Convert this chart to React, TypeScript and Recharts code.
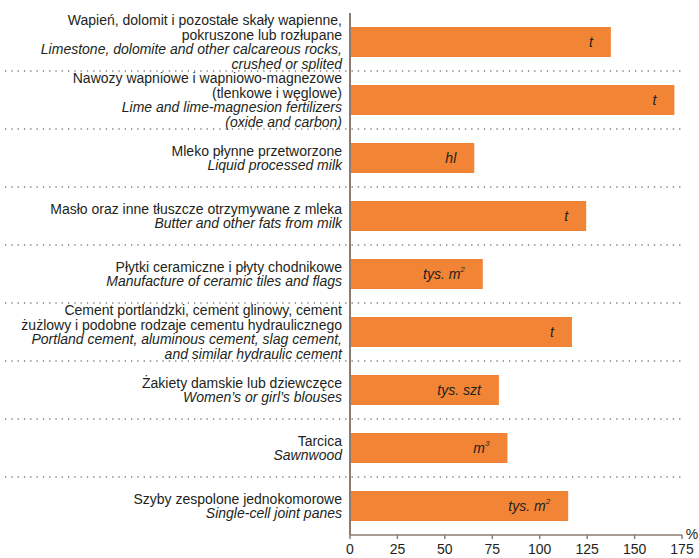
import React from "react";
import { BarChart, Bar, XAxis, YAxis, LabelList, Label } from "recharts";

// Category labels: Polish line(s) first, English (italic) line(s) after
const labelsPl: string[][] = [
  ["Wapień, dolomit i pozostałe skały wapienne,", "pokruszone lub rozłupane"],
  ["Nawozy wapniowe i wapniowo-magnezowe", "(tlenkowe i węglowe)"],
  ["Mleko płynne przetworzone"],
  ["Masło oraz inne tłuszcze otrzymywane z mleka"],
  ["Płytki ceramiczne i płyty chodnikowe"],
  ["Cement portlandzki, cement glinowy, cement", "żużlowy i podobne rodzaje  cementu hydraulicznego"],
  ["Żakiety damskie lub dziewczęce"],
  ["Tarcica"],
  ["Szyby zespolone jednokomorowe"],
];
const labelsEn: string[][] = [
  ["Limestone, dolomite and other calcareous rocks,", "crushed or splited"],
  ["Lime and lime-magnesion fertilizers", "(oxide and carbon)"],
  ["Liquid processed milk"],
  ["Butter and other fats from milk"],
  ["Manufacture of ceramic tiles and flags"],
  ["Portland cement, aluminous cement, slag cement,", "and similar hydraulic cement"],
  ["Women’s or girl’s blouses"],
  ["Sawnwood"],
  ["Single-cell joint panes"],
];

// Values in %
const values = [137.5, 171, 65.5, 124.5, 70, 117, 78.5, 83, 115];

// Units shown inside bars (base + superscript)
const units = ["t", "t", "hl", "t", "tys. m", "t", "tys. szt", "m", "tys. m"];
const unitSup = ["", "", "", "", "2", "", "", "3", "2"];

const xTicks = [0, 25, 50, 75, 100, 125, 150, 175];

const W = 699;
const H = 558;
const MARGIN = { top: 13, right: 17, left: 0, bottom: 0 };
const X_AXIS_H = 23;
const PLOT_H = H - MARGIN.top - MARGIN.bottom - X_AXIS_H;
const HALF_BAND = PLOT_H / values.length / 2;

const TEXT = "#231f20";
const AXIS = "#8c7b70";
const ORANGE = "#f28535";
const FONT = "'Liberation Sans', Arial, Helvetica, sans-serif";

const data = values.map((v, i) => ({ id: String(i), value: v, unit: units[i], sup: unitSup[i] }));

const CategoryTick = (props: any) => {
  const { x, y, payload } = props;
  const i = Number(payload.value);
  const lines = [
    ...labelsPl[i].map((t) => ({ t, it: false })),
    ...labelsEn[i].map((t) => ({ t, it: true })),
  ];
  const lh = 14.5;
  const start = y - ((lines.length - 1) * lh) / 2;
  return (
    <g>
      {lines.map((l, k) => (
        <text
          key={k}
          x={x}
          y={start + k * lh}
          dy="0.35em"
          textAnchor="end"
          fontSize={14}
          fontStyle={l.it ? "italic" : "normal"}
          fill={TEXT}
          fontFamily={FONT}
        >
          {l.t}
        </text>
      ))}
      {i < values.length - 1 && (
        <line
          x1={5}
          x2={683}
          y1={y + HALF_BAND}
          y2={y + HALF_BAND}
          stroke={AXIS}
          strokeWidth={1.3}
          strokeDasharray="1.3 5"
        />
      )}
    </g>
  );
};

const UnitLabel = (props: any) => {
  const { x, y, width, height, index } = props;
  return (
    <text
      x={x + width - 18}
      y={y + height / 2}
      dy="0.35em"
      textAnchor="end"
      fontSize={14}
      fontStyle="italic"
      fill={TEXT}
      fontFamily={FONT}
    >
      {units[index]}
      {unitSup[index] && (
        <tspan fontSize={8} dy="-0.9em">
          {unitSup[index]}
        </tspan>
      )}
    </text>
  );
};

const PercentLabel = (props: any) => {
  const { viewBox } = props;
  return (
    <text x={viewBox.x + viewBox.width + 10} y={viewBox.y + 4} textAnchor="middle" fontSize={14} fill={TEXT} fontFamily={FONT}>
      %
    </text>
  );
};

export default function App() {
  return (
    <div style={{ position: "absolute", left: 0, top: 0, background: "#fff" }}>
      <BarChart width={W} height={H} data={data} layout="vertical" margin={MARGIN}>
        <XAxis
          type="number"
          domain={[0, 175]}
          ticks={xTicks}
          height={X_AXIS_H}
          tickSize={4}
          tickMargin={5}
          stroke={AXIS}
          strokeWidth={1.5}
          tick={{ fill: TEXT, fontSize: 14, fontFamily: FONT }}
        >
          <Label content={PercentLabel} />
        </XAxis>
        <YAxis
          type="category"
          dataKey="id"
          width={350}
          tick={CategoryTick}
          tickLine={false}
          stroke={AXIS}
          strokeWidth={2}
          interval={0}
        />
        <Bar dataKey="value" fill={ORANGE} barSize={30} isAnimationActive={false}>
          <LabelList dataKey="unit" content={UnitLabel} />
        </Bar>
      </BarChart>
    </div>
  );
}
